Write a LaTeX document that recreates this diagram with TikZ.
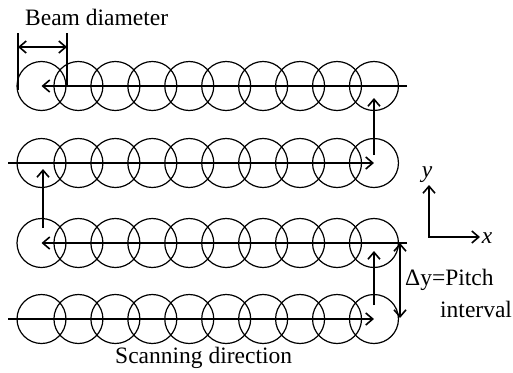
\documentclass[tikz,border=0pt]{standalone}
\usepackage{fontspec}
\setmainfont{Liberation Serif}
\usetikzlibrary{arrows.meta,calc}
\begin{document}
\begin{tikzpicture}[x=1pt,y=-1pt,
  spot/.style={circle,draw,line width=1.2pt,minimum size=49pt,inner sep=0pt},
  conn/.style={line width=1.7pt,-{Straight Barb[length=7pt,width=12pt,line width=1.6pt]}},
  dconn/.style={line width=1.7pt,{Straight Barb[length=7pt,width=12pt,line width=1.6pt]}-{Straight Barb[length=7pt,width=12pt,line width=1.6pt]}},
  plain/.style={line width=1.7pt},
  lbl/.style={font=\fontsize{23.5}{28}\selectfont,inner sep=0pt,anchor=base west}]
\useasboundingbox (0,0) rectangle (513,372);
% circles
\foreach \r/\yy in {1/86,2/163,3/243,4/319}{
  \foreach \i in {0,...,9}{
    \node[spot] (c\r-\i) at ({41.5+36.94*\i},\yy) {};
  }
}
% row end coordinates
\coordinate (e1) at (407,86);
\coordinate (s2) at (8,163);
\coordinate (e3) at (407,243);
\coordinate (s4) at (8,319);
% scanning lines
\draw[conn] (e1) -- (c1-0.center);
\draw[conn] (s2) -- (c2-9.center);
\draw[conn] (e3) -- (c3-0.center);
\draw[conn] (s4) -- (c4-9.center);
% vertical steps
\draw[conn] ($(c2-9.center)+(0,-8)$) -- ($(c1-9.center)+(0,12)$);
\draw[conn] ($(c3-0.center)+(1.5,-15)$) -- ($(c2-0.center)+(1.5,6)$);
\draw[conn] ($(c4-9.center)+(0,-14)$) -- ($(c3-9.center)+(0,8)$);
% pitch interval
\coordinate (p1) at (400,243);
\coordinate (p2) at (400,318);
\draw[dconn] (p1) -- (p2);
% beam diameter
\coordinate (b1t) at (18,33);
\coordinate (b1b) at (18,90);
\coordinate (b2t) at (67,33);
\coordinate (b2b) at (67,86);
\draw[plain] (b1t) -- (b1b);
\draw[plain] (b2t) -- (b2b);
\coordinate (ba) at (18,47);
\coordinate (bb) at (67,47);
\draw[dconn] (ba) -- (bb);
% axes
\coordinate (o) at (429,237);
\coordinate (oy) at (429,185);
\coordinate (ox) at (480,237);
\draw[conn] (o) -- (oy);
\draw[conn] ($(o)+(-0.85,0)$) -- (ox);
\node[font=\fontsize{23.5}{28}\selectfont\itshape,inner sep=0pt] (ly) at (427,175) {y};
\node[font=\fontsize{23.5}{28}\selectfont\itshape,inner sep=0pt] (lx) at (487,238) {x};
% labels
\node[lbl] (tb) at (25,25) {Beam diameter};
\node[lbl] (ts) at (115,363) {Scanning direction};
\node[lbl] (tp) at (405,285) {Δy=Pitch};
\node[lbl] (ti) at (440,317) {interval};
\end{tikzpicture}
\end{document}
